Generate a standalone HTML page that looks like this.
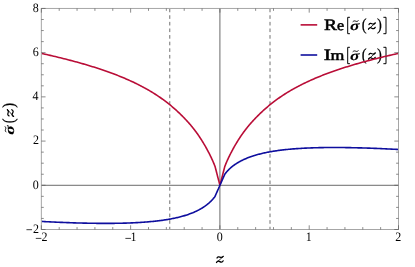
<!DOCTYPE html>
<html><head><meta charset="utf-8"><title>plot</title>
<style>html,body{margin:0;padding:0;background:#fff;}svg{display:block;will-change:transform}text{text-rendering:geometricPrecision}</style>
</head><body>
<svg width="415" height="267" viewBox="0 0 415 267">
<rect width="415" height="267" fill="#fff"/>
<line x1="169.78" y1="8.65" x2="169.78" y2="229.5" stroke="#707070" stroke-width="1" stroke-dasharray="3.6 3.01"/>
<line x1="270.00" y1="8.65" x2="270.00" y2="229.5" stroke="#707070" stroke-width="1" stroke-dasharray="3.6 3.01"/>
<line x1="41.35" y1="185.29" x2="398.5" y2="185.29" stroke="#6a6a6a" stroke-width="1"/>
<line x1="219.92" y1="8.45" x2="219.92" y2="229.5" stroke="#6a6a6a" stroke-width="1"/>
<line x1="300.6" y1="24.88" x2="317.2" y2="24.88" stroke="#b90d37" stroke-width="1.6"/><text font-family="'Liberation Serif', serif"  font-size="16.0px" stroke="#000" stroke-width="0.5" stroke-linejoin="round" transform="translate(324.04,29.90) scale(1.22,1)">R</text><text font-family="'Liberation Serif', serif"  font-size="14.6px" stroke="#000" stroke-width="0.5" stroke-linejoin="round" transform="translate(337.05,29.90) scale(1.1,1)">e</text><path d="M349.9,17.3h-2.2v16.4h2.2 M383.4,17.3h2.6v16.4h-2.6" stroke="#000" stroke-width="1" fill="none"/><g transform="translate(351,29.900000000000002)"><text font-family="'Liberation Serif', serif" font-weight="bold" font-style="italic" font-size="13.4px" stroke="#000" stroke-width="0.1" stroke-linejoin="round" transform="translate(-0.94,0.00) scale(1.3,1)">σ</text><path d="M2.0,-8.35 c0.9,-0.85 1.8,-0.8 2.6,-0.4 s1.7,0.5 2.6,-0.35" stroke="#000" stroke-width="0.95" fill="none" stroke-linecap="round"/><text font-family="'Liberation Serif', serif"  font-size="16.9px" stroke="#000" stroke-width="0.25" stroke-linejoin="round" transform="translate(10.77,-0.30) scale(0.86,1)">(</text><g transform="translate(16.9,0)" fill="none" stroke="#000" stroke-linecap="round" stroke-linejoin="round"><path d="M1.1,-5.3 C1.7,-6.7 3.0,-6.7 4.0,-6.2 S6.3,-5.7 7.3,-6.9" stroke-width="1.25"/><path d="M7.4,-6.8 L0.5,-0.7" stroke-width="0.8"/><path d="M0.6,-0.8 C1.5,-2.5 2.8,-2.4 3.9,-1.7 S6.3,-0.7 7.3,-2.5" stroke-width="1.25"/></g><text font-family="'Liberation Serif', serif"  font-size="16.9px" stroke="#000" stroke-width="0.25" stroke-linejoin="round" transform="translate(26.09,-0.30) scale(0.86,1)">)</text></g><line x1="300.6" y1="55.0" x2="317.2" y2="55.0" stroke="#0e0e9e" stroke-width="1.6"/><text font-family="'Liberation Serif', serif"  font-size="16.0px" stroke="#000" stroke-width="0.5" stroke-linejoin="round" transform="translate(323.66,59.90) scale(1.34,1)">I</text><text font-family="'Liberation Serif', serif"  font-size="14.6px" stroke="#000" stroke-width="0.5" stroke-linejoin="round" transform="translate(330.53,59.90) scale(1.22,1)">m</text><path d="M349.9,47.300000000000004h-2.2v16.4h2.2 M383.4,47.300000000000004h2.6v16.4h-2.6" stroke="#000" stroke-width="1" fill="none"/><g transform="translate(351,59.9)"><text font-family="'Liberation Serif', serif" font-weight="bold" font-style="italic" font-size="13.4px" stroke="#000" stroke-width="0.1" stroke-linejoin="round" transform="translate(-0.94,0.00) scale(1.3,1)">σ</text><path d="M2.0,-8.35 c0.9,-0.85 1.8,-0.8 2.6,-0.4 s1.7,0.5 2.6,-0.35" stroke="#000" stroke-width="0.95" fill="none" stroke-linecap="round"/><text font-family="'Liberation Serif', serif"  font-size="16.9px" stroke="#000" stroke-width="0.25" stroke-linejoin="round" transform="translate(10.77,-0.30) scale(0.86,1)">(</text><g transform="translate(16.9,0)" fill="none" stroke="#000" stroke-linecap="round" stroke-linejoin="round"><path d="M1.1,-5.3 C1.7,-6.7 3.0,-6.7 4.0,-6.2 S6.3,-5.7 7.3,-6.9" stroke-width="1.25"/><path d="M7.4,-6.8 L0.5,-0.7" stroke-width="0.8"/><path d="M0.6,-0.8 C1.5,-2.5 2.8,-2.4 3.9,-1.7 S6.3,-0.7 7.3,-2.5" stroke-width="1.25"/></g><text font-family="'Liberation Serif', serif"  font-size="16.9px" stroke="#000" stroke-width="0.25" stroke-linejoin="round" transform="translate(26.09,-0.30) scale(0.86,1)">)</text></g>
<clipPath id="c"><rect x="41.35" y="8.45" width="357.15" height="221.05"/></clipPath>
<g clip-path="url(#c)" fill="none" stroke-width="1.6" stroke-linejoin="round">
<path d="M41.35,53.38 L43.13,53.78 L44.90,54.17 L46.67,54.57 L48.42,54.97 L50.17,55.37 L51.90,55.78 L53.63,56.18 L55.35,56.59 L57.06,57.00 L58.76,57.41 L60.45,57.83 L62.14,58.24 L63.81,58.66 L65.48,59.08 L67.13,59.51 L68.78,59.93 L70.42,60.36 L72.05,60.79 L73.67,61.23 L75.28,61.66 L76.88,62.10 L78.48,62.54 L80.06,62.98 L81.64,63.43 L83.20,63.88 L84.76,64.33 L86.31,64.79 L87.85,65.25 L89.38,65.71 L90.90,66.17 L92.42,66.64 L93.92,67.11 L95.42,67.58 L96.90,68.06 L98.38,68.54 L99.85,69.02 L101.31,69.51 L102.76,70.00 L104.20,70.49 L105.64,70.99 L107.06,71.49 L108.48,71.99 L109.88,72.50 L111.28,73.01 L112.67,73.53 L114.05,74.05 L115.42,74.57 L116.78,75.10 L118.13,75.63 L119.48,76.17 L120.81,76.71 L122.14,77.25 L123.45,77.80 L124.76,78.35 L126.06,78.91 L127.35,79.47 L128.63,80.04 L129.91,80.61 L131.17,81.19 L132.42,81.77 L133.67,82.35 L134.91,82.94 L136.13,83.54 L137.35,84.14 L138.56,84.75 L139.76,85.36 L140.95,85.97 L142.14,86.59 L143.31,87.22 L144.48,87.85 L145.63,88.49 L146.78,89.13 L147.92,89.78 L149.05,90.43 L150.17,91.09 L151.28,91.76 L152.38,92.43 L153.48,93.10 L154.56,93.79 L155.64,94.47 L156.70,95.17 L157.76,95.87 L158.81,96.57 L159.85,97.28 L160.88,98.00 L161.91,98.72 L162.92,99.45 L163.92,100.18 L164.92,100.92 L165.91,101.67 L166.88,102.42 L167.85,103.17 L168.81,103.93 L169.76,104.70 L170.71,105.47 L171.64,106.25 L172.56,107.03 L173.48,107.82 L174.38,108.61 L175.28,109.40 L176.17,110.20 L177.05,111.01 L177.92,111.81 L178.78,112.62 L179.63,113.43 L180.48,114.25 L181.31,115.06 L182.14,115.88 L182.96,116.70 L183.76,117.53 L184.56,118.35 L185.35,119.18 L186.13,120.01 L186.91,120.84 L187.67,121.68 L188.42,122.52 L189.17,123.37 L189.91,124.21 L190.63,125.07 L191.35,125.92 L192.06,126.79 L192.76,127.65 L193.46,128.52 L194.14,129.40 L194.81,130.28 L195.48,131.16 L196.13,132.05 L196.78,132.95 L197.42,133.84 L198.05,134.74 L198.67,135.64 L199.28,136.55 L199.88,137.45 L200.48,138.36 L201.06,139.26 L201.64,140.17 L202.21,141.08 L202.76,141.98 L203.31,142.88 L203.85,143.79 L204.38,144.69 L204.91,145.58 L205.42,146.48 L205.92,147.37 L206.42,148.25 L206.91,149.14 L207.38,150.01 L207.85,150.89 L208.31,151.76 L208.76,152.63 L209.21,153.49 L209.64,154.34 L210.06,155.19 L210.48,156.04 L210.88,156.88 L211.28,157.71 L211.67,158.54 L212.05,159.36 L212.42,160.18 L212.78,160.99 L213.13,161.79 L213.48,162.59 L213.81,163.38 L214.14,164.16 L214.46,164.94 L214.76,165.71 L215.01,166.35 L215.06,166.54 L215.35,167.66 L215.63,168.74 L215.91,169.79 L216.17,170.81 L216.42,171.79 L216.67,172.74 L216.91,173.65 L217.13,174.53 L217.35,175.37 L217.56,176.18 L217.76,176.96 L217.96,177.70 L218.14,178.40 L218.31,179.07 L218.48,179.71 L218.63,180.31 L218.78,180.88 L218.92,181.42 L219.05,181.91 L219.17,182.38 L219.28,182.81 L219.38,183.21 L219.48,183.57 L219.56,183.90 L219.64,184.19 L219.71,184.45 L219.76,184.67 L219.81,184.86 L219.85,185.01 L219.88,185.14 L219.91,185.22 L219.92,185.27 L219.92,185.29 L219.93,185.27 L219.94,185.22 L219.97,185.14 L220.00,185.01 L220.04,184.86 L220.09,184.67 L220.14,184.45 L220.21,184.19 L220.29,183.90 L220.37,183.57 L220.47,183.21 L220.57,182.81 L220.68,182.38 L220.80,181.91 L220.93,181.42 L221.07,180.88 L221.22,180.31 L221.37,179.71 L221.54,179.07 L221.71,178.40 L221.89,177.70 L222.09,176.96 L222.29,176.18 L222.50,175.37 L222.72,174.53 L222.94,173.65 L223.18,172.74 L223.43,171.79 L223.68,170.81 L223.94,169.79 L224.22,168.74 L224.50,167.66 L224.79,166.54 L224.84,166.35 L225.09,165.71 L225.39,164.94 L225.71,164.16 L226.04,163.38 L226.37,162.59 L226.72,161.79 L227.07,160.99 L227.43,160.18 L227.80,159.36 L228.18,158.54 L228.57,157.71 L228.97,156.88 L229.37,156.04 L229.79,155.19 L230.21,154.34 L230.64,153.49 L231.09,152.63 L231.54,151.76 L232.00,150.89 L232.47,150.01 L232.94,149.14 L233.43,148.25 L233.93,147.37 L234.43,146.48 L234.94,145.58 L235.47,144.69 L236.00,143.79 L236.54,142.88 L237.09,141.98 L237.64,141.08 L238.21,140.17 L238.79,139.26 L239.37,138.36 L239.97,137.45 L240.57,136.55 L241.18,135.64 L241.80,134.74 L242.43,133.84 L243.07,132.95 L243.72,132.05 L244.37,131.16 L245.04,130.28 L245.71,129.40 L246.39,128.52 L247.09,127.65 L247.79,126.79 L248.50,125.92 L249.22,125.07 L249.94,124.21 L250.68,123.37 L251.43,122.52 L252.18,121.68 L252.94,120.84 L253.72,120.01 L254.50,119.18 L255.29,118.35 L256.09,117.53 L256.89,116.70 L257.71,115.88 L258.54,115.06 L259.37,114.25 L260.22,113.43 L261.07,112.62 L261.93,111.81 L262.80,111.01 L263.68,110.20 L264.57,109.40 L265.47,108.61 L266.37,107.82 L267.29,107.03 L268.21,106.25 L269.14,105.47 L270.09,104.70 L271.04,103.93 L272.00,103.17 L272.97,102.42 L273.94,101.67 L274.93,100.92 L275.93,100.18 L276.93,99.45 L277.94,98.72 L278.97,98.00 L280.00,97.28 L281.04,96.57 L282.09,95.87 L283.15,95.17 L284.21,94.47 L285.29,93.79 L286.37,93.10 L287.47,92.43 L288.57,91.76 L289.68,91.09 L290.80,90.43 L291.93,89.78 L293.07,89.13 L294.22,88.49 L295.37,87.85 L296.54,87.22 L297.71,86.59 L298.90,85.97 L300.09,85.36 L301.29,84.75 L302.50,84.14 L303.72,83.54 L304.94,82.94 L306.18,82.35 L307.43,81.77 L308.68,81.19 L309.94,80.61 L311.22,80.04 L312.50,79.47 L313.79,78.91 L315.09,78.35 L316.40,77.80 L317.71,77.25 L319.04,76.71 L320.37,76.17 L321.72,75.63 L323.07,75.10 L324.43,74.57 L325.80,74.05 L327.18,73.53 L328.57,73.01 L329.97,72.50 L331.37,71.99 L332.79,71.49 L334.21,70.99 L335.65,70.49 L337.09,70.00 L338.54,69.51 L340.00,69.02 L341.47,68.54 L342.95,68.06 L344.43,67.58 L345.93,67.11 L347.43,66.64 L348.95,66.17 L350.47,65.71 L352.00,65.25 L353.54,64.79 L355.09,64.33 L356.65,63.88 L358.21,63.43 L359.79,62.98 L361.37,62.54 L362.97,62.10 L364.57,61.66 L366.18,61.23 L367.80,60.79 L369.43,60.36 L371.07,59.93 L372.72,59.51 L374.37,59.08 L376.04,58.66 L377.71,58.24 L379.40,57.83 L381.09,57.41 L382.79,57.00 L384.50,56.59 L386.22,56.18 L387.95,55.78 L389.68,55.37 L391.43,54.97 L393.18,54.57 L394.95,54.17 L396.72,53.78 L398.50,53.38" stroke="#b90d37"/>
<path d="M41.35,221.40 L43.13,221.50 L44.90,221.59 L46.67,221.69 L48.42,221.78 L50.17,221.86 L51.90,221.95 L53.63,222.03 L55.35,222.11 L57.06,222.19 L58.76,222.26 L60.45,222.34 L62.14,222.41 L63.81,222.47 L65.48,222.54 L67.13,222.60 L68.78,222.66 L70.42,222.72 L72.05,222.77 L73.67,222.83 L75.28,222.88 L76.88,222.93 L78.48,222.97 L80.06,223.02 L81.64,223.06 L83.20,223.10 L84.76,223.13 L86.31,223.17 L87.85,223.20 L89.38,223.23 L90.90,223.25 L92.42,223.28 L93.92,223.30 L95.42,223.32 L96.90,223.33 L98.38,223.35 L99.85,223.36 L101.31,223.37 L102.76,223.38 L104.20,223.38 L105.64,223.38 L107.06,223.38 L108.48,223.38 L109.88,223.37 L111.28,223.36 L112.67,223.35 L114.05,223.34 L115.42,223.32 L116.78,223.30 L118.13,223.28 L119.48,223.25 L120.81,223.22 L122.14,223.19 L123.45,223.16 L124.76,223.12 L126.06,223.09 L127.35,223.04 L128.63,223.00 L129.91,222.95 L131.17,222.90 L132.42,222.85 L133.67,222.79 L134.91,222.73 L136.13,222.67 L137.35,222.60 L138.56,222.53 L139.76,222.46 L140.95,222.39 L142.14,222.31 L143.31,222.23 L144.48,222.14 L145.63,222.06 L146.78,221.97 L147.92,221.87 L149.05,221.77 L150.17,221.67 L151.28,221.57 L152.38,221.46 L153.48,221.35 L154.56,221.24 L155.64,221.12 L156.70,221.00 L157.76,220.87 L158.81,220.74 L159.85,220.61 L160.88,220.48 L161.91,220.34 L162.92,220.20 L163.92,220.05 L164.92,219.90 L165.91,219.75 L166.88,219.59 L167.85,219.43 L168.81,219.26 L169.76,219.10 L170.71,218.92 L171.64,218.75 L172.56,218.57 L173.48,218.38 L174.38,218.20 L175.28,218.00 L176.17,217.81 L177.05,217.61 L177.92,217.41 L178.78,217.20 L179.63,216.99 L180.48,216.77 L181.31,216.55 L182.14,216.33 L182.96,216.10 L183.76,215.87 L184.56,215.63 L185.35,215.39 L186.13,215.15 L186.91,214.90 L187.67,214.65 L188.42,214.39 L189.17,214.12 L189.91,213.85 L190.63,213.58 L191.35,213.30 L192.06,213.02 L192.76,212.74 L193.46,212.44 L194.14,212.15 L194.81,211.85 L195.48,211.55 L196.13,211.24 L196.78,210.93 L197.42,210.61 L198.05,210.30 L198.67,209.97 L199.28,209.65 L199.88,209.31 L200.48,208.98 L201.06,208.64 L201.64,208.30 L202.21,207.96 L202.76,207.61 L203.31,207.26 L203.85,206.90 L204.38,206.54 L204.91,206.18 L205.42,205.81 L205.92,205.45 L206.42,205.07 L206.91,204.70 L207.38,204.32 L207.85,203.94 L208.31,203.56 L208.76,203.18 L209.21,202.79 L209.64,202.40 L210.06,202.01 L210.48,201.61 L210.88,201.22 L211.28,200.82 L211.67,200.42 L212.05,200.02 L212.42,199.61 L212.78,199.21 L213.13,198.80 L213.48,198.40 L213.81,197.99 L214.14,197.58 L214.46,197.17 L214.76,196.76 L215.01,196.42 L215.06,196.31 L215.35,195.65 L215.63,195.01 L215.91,194.40 L216.17,193.80 L216.42,193.22 L216.67,192.67 L216.91,192.13 L217.13,191.61 L217.35,191.12 L217.56,190.64 L217.76,190.19 L217.96,189.75 L218.14,189.34 L218.31,188.94 L218.48,188.57 L218.63,188.21 L218.78,187.88 L218.92,187.57 L219.05,187.27 L219.17,187.00 L219.28,186.75 L219.38,186.51 L219.48,186.30 L219.56,186.11 L219.64,185.94 L219.71,185.79 L219.76,185.65 L219.81,185.54 L219.85,185.45 L219.88,185.38 L219.91,185.33 L219.92,185.30 L219.92,185.29 L219.93,185.28 L219.94,185.25 L219.97,185.20 L220.00,185.13 L220.04,185.04 L220.09,184.93 L220.14,184.79 L220.21,184.64 L220.29,184.47 L220.37,184.28 L220.47,184.07 L220.57,183.84 L220.68,183.58 L220.80,183.31 L220.93,183.02 L221.07,182.70 L221.22,182.37 L221.37,182.02 L221.54,181.64 L221.71,181.25 L221.89,180.83 L222.09,180.40 L222.29,179.95 L222.50,179.47 L222.72,178.98 L222.94,178.46 L223.18,177.92 L223.43,177.37 L223.68,176.79 L223.94,176.20 L224.22,175.58 L224.50,174.94 L224.79,174.29 L224.84,174.18 L225.09,173.84 L225.39,173.43 L225.71,173.02 L226.04,172.62 L226.37,172.21 L226.72,171.81 L227.07,171.40 L227.43,171.00 L227.80,170.60 L228.18,170.20 L228.57,169.81 L228.97,169.41 L229.37,169.02 L229.79,168.63 L230.21,168.24 L230.64,167.86 L231.09,167.48 L231.54,167.10 L232.00,166.72 L232.47,166.34 L232.94,165.97 L233.43,165.60 L233.93,165.24 L234.43,164.88 L234.94,164.52 L235.47,164.16 L236.00,163.81 L236.54,163.46 L237.09,163.12 L237.64,162.78 L238.21,162.44 L238.79,162.11 L239.37,161.77 L239.97,161.45 L240.57,161.13 L241.18,160.81 L241.80,160.49 L242.43,160.18 L243.07,159.87 L243.72,159.57 L244.37,159.27 L245.04,158.97 L245.71,158.68 L246.39,158.39 L247.09,158.11 L247.79,157.83 L248.50,157.55 L249.22,157.28 L249.94,157.01 L250.68,156.75 L251.43,156.49 L252.18,156.24 L252.94,155.98 L253.72,155.74 L254.50,155.49 L255.29,155.25 L256.09,155.02 L256.89,154.79 L257.71,154.56 L258.54,154.34 L259.37,154.12 L260.22,153.90 L261.07,153.69 L261.93,153.48 L262.80,153.28 L263.68,153.08 L264.57,152.89 L265.47,152.69 L266.37,152.51 L267.29,152.32 L268.21,152.14 L269.14,151.97 L270.09,151.79 L271.04,151.63 L272.00,151.46 L272.97,151.30 L273.94,151.14 L274.93,150.99 L275.93,150.84 L276.93,150.69 L277.94,150.55 L278.97,150.41 L280.00,150.28 L281.04,150.14 L282.09,150.02 L283.15,149.89 L284.21,149.77 L285.29,149.65 L286.37,149.54 L287.47,149.43 L288.57,149.32 L289.68,149.22 L290.80,149.12 L291.93,149.02 L293.07,148.92 L294.22,148.83 L295.37,148.75 L296.54,148.66 L297.71,148.58 L298.90,148.50 L300.09,148.43 L301.29,148.36 L302.50,148.29 L303.72,148.22 L304.94,148.16 L306.18,148.10 L307.43,148.04 L308.68,147.99 L309.94,147.94 L311.22,147.89 L312.50,147.85 L313.79,147.80 L315.09,147.76 L316.40,147.73 L317.71,147.70 L319.04,147.66 L320.37,147.64 L321.72,147.61 L323.07,147.59 L324.43,147.57 L325.80,147.55 L327.18,147.54 L328.57,147.53 L329.97,147.52 L331.37,147.51 L332.79,147.51 L334.21,147.51 L335.65,147.51 L337.09,147.51 L338.54,147.52 L340.00,147.53 L341.47,147.54 L342.95,147.55 L344.43,147.57 L345.93,147.59 L347.43,147.61 L348.95,147.64 L350.47,147.66 L352.00,147.69 L353.54,147.72 L355.09,147.76 L356.65,147.79 L358.21,147.83 L359.79,147.87 L361.37,147.92 L362.97,147.96 L364.57,148.01 L366.18,148.06 L367.80,148.11 L369.43,148.17 L371.07,148.23 L372.72,148.29 L374.37,148.35 L376.04,148.42 L377.71,148.48 L379.40,148.55 L381.09,148.63 L382.79,148.70 L384.50,148.78 L386.22,148.86 L387.95,148.94 L389.68,149.03 L391.43,149.11 L393.18,149.20 L394.95,149.30 L396.72,149.39 L398.50,149.49" stroke="#0e0e9e"/>
</g>
<rect x="41.35" y="8.45" width="357.15" height="221.05" fill="none" stroke="#a6a6a6" stroke-width="1"/>
<path d="M41.35,229.5v-4.2M41.35,8.45v4.2M59.21,229.5v-2.4M59.21,8.45v2.4M77.06,229.5v-2.4M77.06,8.45v2.4M94.92,229.5v-2.4M94.92,8.45v2.4M112.78,229.5v-2.4M112.78,8.45v2.4M130.64,229.5v-4.2M130.64,8.45v4.2M148.50,229.5v-2.4M148.50,8.45v2.4M166.35,229.5v-2.4M166.35,8.45v2.4M184.21,229.5v-2.4M184.21,8.45v2.4M202.07,229.5v-2.4M202.07,8.45v2.4M219.92,229.5v-4.2M219.92,8.45v4.2M237.78,229.5v-2.4M237.78,8.45v2.4M255.64,229.5v-2.4M255.64,8.45v2.4M273.50,229.5v-2.4M273.50,8.45v2.4M291.35,229.5v-2.4M291.35,8.45v2.4M309.21,229.5v-4.2M309.21,8.45v4.2M327.07,229.5v-2.4M327.07,8.45v2.4M344.93,229.5v-2.4M344.93,8.45v2.4M362.79,229.5v-2.4M362.79,8.45v2.4M380.64,229.5v-2.4M380.64,8.45v2.4M398.50,229.5v-4.2M398.50,8.45v4.2M41.35,229.50h4.2M398.5,229.50h-4.2M41.35,218.45h2.4M398.5,218.45h-2.4M41.35,207.39h2.4M398.5,207.39h-2.4M41.35,196.34h2.4M398.5,196.34h-2.4M41.35,185.29h4.2M398.5,185.29h-4.2M41.35,174.24h2.4M398.5,174.24h-2.4M41.35,163.19h2.4M398.5,163.19h-2.4M41.35,152.13h2.4M398.5,152.13h-2.4M41.35,141.08h4.2M398.5,141.08h-4.2M41.35,130.03h2.4M398.5,130.03h-2.4M41.35,118.98h2.4M398.5,118.98h-2.4M41.35,107.92h2.4M398.5,107.92h-2.4M41.35,96.87h4.2M398.5,96.87h-4.2M41.35,85.82h2.4M398.5,85.82h-2.4M41.35,74.77h2.4M398.5,74.77h-2.4M41.35,63.71h2.4M398.5,63.71h-2.4M41.35,52.66h4.2M398.5,52.66h-4.2M41.35,41.61h2.4M398.5,41.61h-2.4M41.35,30.55h2.4M398.5,30.55h-2.4M41.35,19.50h2.4M398.5,19.50h-2.4M41.35,8.45h4.2M398.5,8.45h-4.2" stroke="#5a5a5a" stroke-width="0.7" fill="none"/>
<g font-family="'Liberation Serif', serif" font-size="48.0px" fill="#000" transform="scale(0.25,0.2675)"><text x="132.05" y="870.09">2</text><text x="131.23" y="704.82">0</text><text x="132.05" y="539.55">2</text><text x="130.15" y="374.28">4</text><text x="130.83" y="209.01">6</text><text x="131.23" y="43.74">8</text><text x="165.87" y="900.56">2</text><text x="522.08" y="900.56">1</text><text x="866.70" y="900.56">0</text><text x="1223.18" y="900.56">1</text><text x="1581.27" y="900.56">2</text></g>
<path d="M26.44,229.70h5.6M35.79,238.40h5.6M125.38,238.40h5.6" stroke="#000" stroke-width="0.75" fill="none"/>
<g transform="translate(215.9,263.3)" fill="none" stroke="#000" stroke-linecap="round" stroke-linejoin="round"><path d="M1.1,-5.3 C1.7,-6.7 3.0,-6.7 4.0,-6.2 S6.3,-5.7 7.3,-6.9" stroke-width="1.25"/><path d="M7.4,-6.8 L0.5,-0.7" stroke-width="0.8"/><path d="M0.6,-0.8 C1.5,-2.5 2.8,-2.4 3.9,-1.7 S6.3,-0.7 7.3,-2.5" stroke-width="1.25"/></g>
<g transform="translate(14.3,133.9) rotate(-90)"><text font-family="'Liberation Serif', serif" font-weight="bold" font-style="italic" font-size="13.4px" stroke="#000" stroke-width="0.1" stroke-linejoin="round" transform="translate(-0.94,0.00) scale(1.3,1)">σ</text><path d="M2.0,-8.35 c0.9,-0.85 1.8,-0.8 2.6,-0.4 s1.7,0.5 2.6,-0.35" stroke="#000" stroke-width="0.95" fill="none" stroke-linecap="round"/><text font-family="'Liberation Serif', serif"  font-size="16.9px" stroke="#000" stroke-width="0.25" stroke-linejoin="round" transform="translate(10.77,-0.30) scale(0.86,1)">(</text><g transform="translate(16.9,0)" fill="none" stroke="#000" stroke-linecap="round" stroke-linejoin="round"><path d="M1.1,-5.3 C1.7,-6.7 3.0,-6.7 4.0,-6.2 S6.3,-5.7 7.3,-6.9" stroke-width="1.25"/><path d="M7.4,-6.8 L0.5,-0.7" stroke-width="0.8"/><path d="M0.6,-0.8 C1.5,-2.5 2.8,-2.4 3.9,-1.7 S6.3,-0.7 7.3,-2.5" stroke-width="1.25"/></g><text font-family="'Liberation Serif', serif"  font-size="16.9px" stroke="#000" stroke-width="0.25" stroke-linejoin="round" transform="translate(26.09,-0.30) scale(0.86,1)">)</text></g>
</svg>
</body></html>
